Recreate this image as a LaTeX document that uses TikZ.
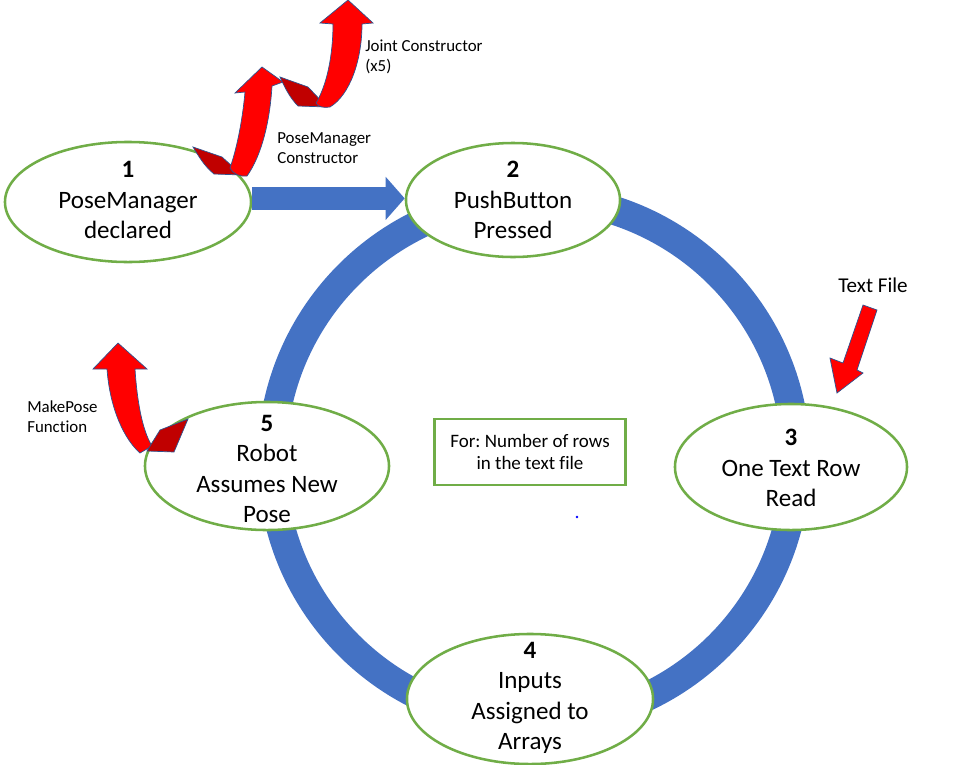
\documentclass[tikz,border=0pt]{standalone}
\usepackage{fontspec}
\setmainfont{Carlito}[Ligatures=NoCommon]
\usetikzlibrary{shapes.geometric,arrows.meta}
\definecolor{ringblue}{HTML}{4472C4}
\definecolor{leafgreen}{HTML}{70AD47}
\definecolor{ribbonred}{HTML}{FF0000}
\definecolor{folddark}{HTML}{C00000}
\definecolor{edgeblue}{HTML}{2F528F}
\frenchspacing

\begin{document}
\begin{tikzpicture}[x=0.025cm,y=-0.025cm,
		stage/.style={ellipse,draw=leafgreen,line width=1.8pt,fill=white,inner sep=0pt},
		stagetext/.style={align=center,inner sep=0pt,font=\fontsize{17.8}{21.7}\selectfont},
		note/.style={align=left,anchor=west,inner sep=0pt,font=\fontsize{12}{14.5}\selectfont},
		ribbon/.style={fill=ribbonred,draw=edgeblue,line width=0.5pt},
		fold/.style={fill=folddark,draw=edgeblue,line width=0.5pt}]
			\useasboundingbox (0,0) rectangle (974,764);
			% the loop
			\draw [ringblue,line width=0.72cm] (534,460) circle (6.55cm);
			\node [stage,minimum width=6.15cm,minimum height=3cm] (s1) at (128,202) {};
			\node [stage,minimum width=5.35cm,minimum height=2.85cm] (s2) at (513,200) {};
			\node [stage,minimum width=5.8cm,minimum height=3.15cm] (s3) at (791,467) {};
			\node [stage,minimum width=6.15cm,minimum height=3.25cm] (s4) at (530,699) {};
			\node [stage,minimum width=6.1cm,minimum height=3.2cm] (s5) at (267,466) {};
			\node [stagetext] (t1) at (128,200) {\textbf{1}\\PoseManager\\declared};
			\node [stagetext] (t2) at (513,200) {\textbf{2}\\PushButton\\Pressed};
			\node [stagetext] (t3) at (791,468) {\textbf{3}\\One Text Row\\Read};
			\node [stagetext] (t4) at (530,698) {\textbf{4}\\Inputs\\Assigned to\\Arrays};
			\node [stagetext] (t5) at (267,469) {\textbf{5}\\Robot\\Assumes New\\Pose};
			% 1 -> 2
			\coordinate (a) at ([yshift=0.09cm]s1.east);
			\draw [ringblue,line width=0.575cm,-{Triangle[length=0.475cm,width=1.05cm]}] (a) -- (a -| s2.west);
			\node [draw=leafgreen,line width=1.8pt,minimum width=4.78cm,minimum height=1.65cm,align=center,font=\fontsize{13.5}{16}\selectfont] (loop) at (530,452) {For: Number of rows\\in the text file};
			\fill [blue] (577,517) circle (0.9pt);
			% ribbon arrows
			\filldraw [fold] (193,147) -- (222,157) -- (242,175) -- (214,174) .. controls (204,166) and (198,155) .. (193,147) -- cycle;
			\filldraw [ribbon] (230,168) .. controls (238,145) and (243,115) .. (245,92) -- (235,93) -- (262,67) -- (283,82) -- (272,86) .. controls (270,120) and (262,155) .. (247,176) .. controls (240,177) and (233,174) .. (230,168) -- cycle;
			\filldraw [fold] (280,77) -- (308,87) -- (327,107) -- (298,106) .. controls (290,98) and (285,88) .. (280,77) -- cycle;
			\filldraw [ribbon] (316,103) .. controls (327,85) and (333,55) .. (333,24) -- (320,23) -- (348,0) -- (373,23) -- (362,24) .. controls (362,60) and (350,95) .. (330,107) .. controls (324,108) and (318,107) .. (316,103) -- cycle;
			\filldraw [ribbon] (107,369) -- (93,369) -- (118,343) -- (147,369) -- (135,369) .. controls (137,400) and (142,430) .. (152,446) -- (140,453) .. controls (125,440) and (110,410) .. (107,369) -- cycle;
			\filldraw [fold] (147,451) -- (160,430) -- (188,419) -- (174,452) -- cycle;
			\filldraw [ribbon] (863,305) -- (877,310) -- (857,370) -- (863,373) -- (837,393) -- (830,358) -- (843,363) -- cycle;
			% labels
			\node [note] (jc) at (365,57) {Joint Constructor\\(x5)};
			\node [note] (pc) at (277,148) {PoseManager\\Constructor};
			\node [note] (mp) at (27,417) {MakePose\\Function};
			\node [font=\fontsize{15}{18}\selectfont,inner sep=0pt] (tf) at (873,285) {Text File};
			\end{tikzpicture}
\end{document}
